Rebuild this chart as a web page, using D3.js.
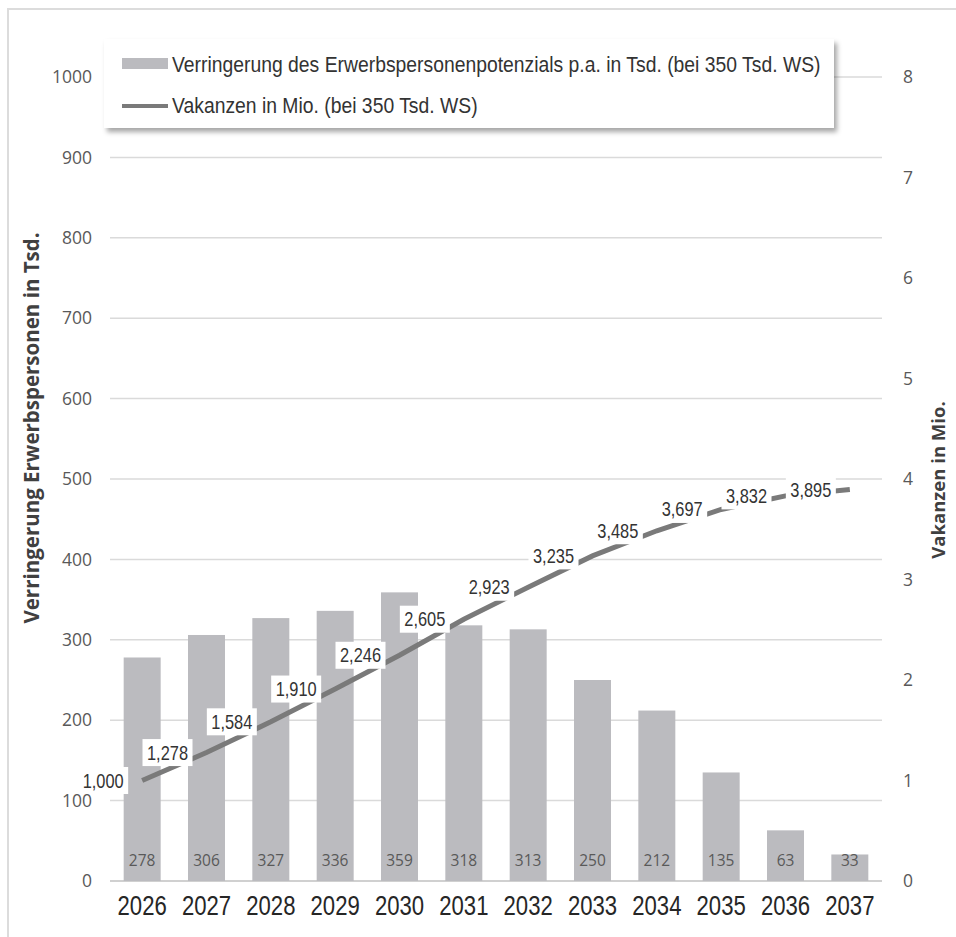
<!DOCTYPE html>
<html>
<head>
<meta charset="utf-8">
<script src="https://cdn.jsdelivr.net/npm/d3@7"></script>
<style>
  html, body { margin: 0; padding: 0; background: #fff; }
  svg { display: block; }
</style>
</head>
<body>
<svg id="chart" width="956" height="937"></svg>
<script>
// ---- data ----
const years = ["2026","2027","2028","2029","2030","2031","2032","2033","2034","2035","2036","2037"];
const decline = [278, 306, 327, 336, 359, 318, 313, 250, 212, 135, 63, 33];
const vacancies = [1.000, 1.278, 1.584, 1.910, 2.246, 2.605, 2.923, 3.235, 3.485, 3.697, 3.832, 3.895];
const leftTicks = [0, 100, 200, 300, 400, 500, 600, 700, 800, 900, 1000];
const rightTicks = [0, 1, 2, 3, 4, 5, 6, 7, 8];
const seriesNames = ["Verringerung des Erwerbspersonenpotenzials p.a. in Tsd. (bei 350 Tsd. WS)", "Vakanzen in Mio. (bei 350 Tsd. WS)"];
const axisTitles = ["Verringerung Erwerbspersonen in Tsd.", "Vakanzen in Mio."];

const arial = "'Liberation Sans', Arial, sans-serif";
const sans = "'Open Sans', 'Noto Sans', sans-serif";
const NARROW = "scale(0.82,1)";

const svg = d3.select("#chart");
const pLeft = 110, pRight = 882, pTop = 77, pBottom = 881;

const x = d3.scaleBand().domain(years).range([pLeft, pRight]).paddingInner(0.425).paddingOuter(0.2125);
const yL = d3.scaleLinear().domain([0, 1000]).range([pBottom, pTop]);
const yR = d3.scaleLinear().domain([0, 8]).range([pBottom, pTop]);
const de = d3.formatLocale({decimal: ",", thousands: ".", grouping: [3], currency: ["", "€"]});
const fmt = de.format(".3f");

// frame
svg.append("line").attr("x1", 8).attr("x2", 956).attr("y1", 9).attr("y2", 9).attr("stroke", "#dcdcdc").attr("stroke-width", 2);
svg.append("line").attr("x1", 8).attr("x2", 8).attr("y1", 8).attr("y2", 937).attr("stroke", "#dcdcdc").attr("stroke-width", 2);

// gridlines
svg.append("g").selectAll("line").data(leftTicks).join("line")
  .attr("x1", pLeft).attr("x2", pRight)
  .attr("y1", d => yL(d)).attr("y2", d => yL(d))
  .attr("stroke", d => d === 0 ? "#d0d0d0" : "#dadada")
  .attr("stroke-width", d => d === 0 ? 2 : 1.5);

// left axis labels
const axL = svg.append("g").attr("transform", `translate(${pLeft - 18},0)`)
  .call(d3.axisLeft(yL).tickValues(leftTicks).tickFormat(d3.format("d")).tickSize(0).tickPadding(0));
axL.select(".domain").remove();
axL.selectAll("text").attr("font-family", sans).attr("font-size", 17.5).attr("fill", "#595959");

// right axis labels
const axR = svg.append("g").attr("transform", `translate(${pRight + 21},0)`)
  .call(d3.axisRight(yR).tickValues(rightTicks).tickFormat(d3.format("d")).tickSize(0).tickPadding(0));
axR.select(".domain").remove();
axR.selectAll("text").attr("font-family", sans).attr("font-size", 17.5).attr("fill", "#595959");

// bars
svg.append("g").selectAll("rect").data(decline).join("rect")
  .attr("x", (d, i) => x(years[i]))
  .attr("width", x.bandwidth())
  .attr("y", d => yL(d))
  .attr("height", d => yL(0) - yL(d))
  .attr("fill", "#bbbbbf");

// bar value labels
svg.append("g").selectAll("text").data(decline).join("text")
  .attr("x", (d, i) => x(years[i]) + x.bandwidth() / 2)
  .attr("y", pBottom - 15)
  .attr("text-anchor", "middle")
  .attr("font-family", sans).attr("font-size", 15.5).attr("fill", "#595959")
  .text(d => d);

// x axis labels
const axX = svg.append("g").attr("transform", `translate(0,${pBottom})`)
  .call(d3.axisBottom(x).tickSize(0).tickPadding(0));
axX.select(".domain").remove();
axX.selectAll("text").attr("font-family", arial).attr("font-size", 27).attr("fill", "#262626")
  .attr("y", 34).attr("dy", null).attr("transform", NARROW);

// line
const cx = i => x(years[i]) + x.bandwidth() / 2;
const line = d3.line().x((d, i) => cx(i)).y(d => yR(d));
svg.append("path").datum(vacancies).attr("d", line)
  .attr("fill", "none").attr("stroke", "#7a7a7a").attr("stroke-width", 5).attr("stroke-linecap", "butt");

// line labels (left of point, white box)
const lbl = svg.append("g").selectAll("g").data(vacancies).join("g")
  .attr("transform", (d, i) => `translate(${cx(i) - 39},${yR(d)})`);
lbl.append("rect").attr("x", -25).attr("y", -13.5).attr("width", 50).attr("height", 27).attr("fill", "#fff");
lbl.append("text").attr("text-anchor", "middle").attr("y", 7).attr("transform", NARROW)
  .attr("font-family", arial).attr("font-size", 20).attr("fill", "#333")
  .text(d => fmt(d));

// axis titles
svg.append("text").attr("transform", "translate(39,428) rotate(-90)")
  .attr("text-anchor", "middle").attr("font-family", sans).attr("font-weight", "bold")
  .attr("font-size", 20.5).attr("fill", "#404040").text(axisTitles[0]);
svg.append("text").attr("transform", "translate(945,480) rotate(-90)")
  .attr("text-anchor", "middle").attr("font-family", sans).attr("font-weight", "bold")
  .attr("font-size", 18.5).attr("fill", "#404040").text(axisTitles[1]);

// legend
const defs = svg.append("defs");
const f = defs.append("filter").attr("id", "sh").attr("x", "-5%").attr("y", "-20%").attr("width", "115%").attr("height", "150%");
f.append("feDropShadow").attr("dx", 3).attr("dy", 4).attr("stdDeviation", 2.5).attr("flood-color", "#000").attr("flood-opacity", 0.35);
const lg = svg.append("g");
lg.append("rect").attr("x", 104).attr("y", 39).attr("width", 730).attr("height", 89).attr("fill", "#fff").attr("filter", "url(#sh)");
lg.append("rect").attr("x", 122).attr("y", 58).attr("width", 46).attr("height", 11).attr("fill", "#bbbbbf");
lg.append("line").attr("x1", 122).attr("x2", 168).attr("y1", 106).attr("y2", 106).attr("stroke", "#7a7a7a").attr("stroke-width", 4);
lg.append("g").attr("transform", "translate(172,72)").append("text").attr("transform", "scale(0.86,1)")
  .attr("font-family", arial).attr("font-size", 22.5).attr("fill", "#333").text(seriesNames[0]);
lg.append("g").attr("transform", "translate(172,113)").append("text").attr("transform", "scale(0.86,1)")
  .attr("font-family", arial).attr("font-size", 22.5).attr("fill", "#333").text(seriesNames[1]);
</script>
</body>
</html>
